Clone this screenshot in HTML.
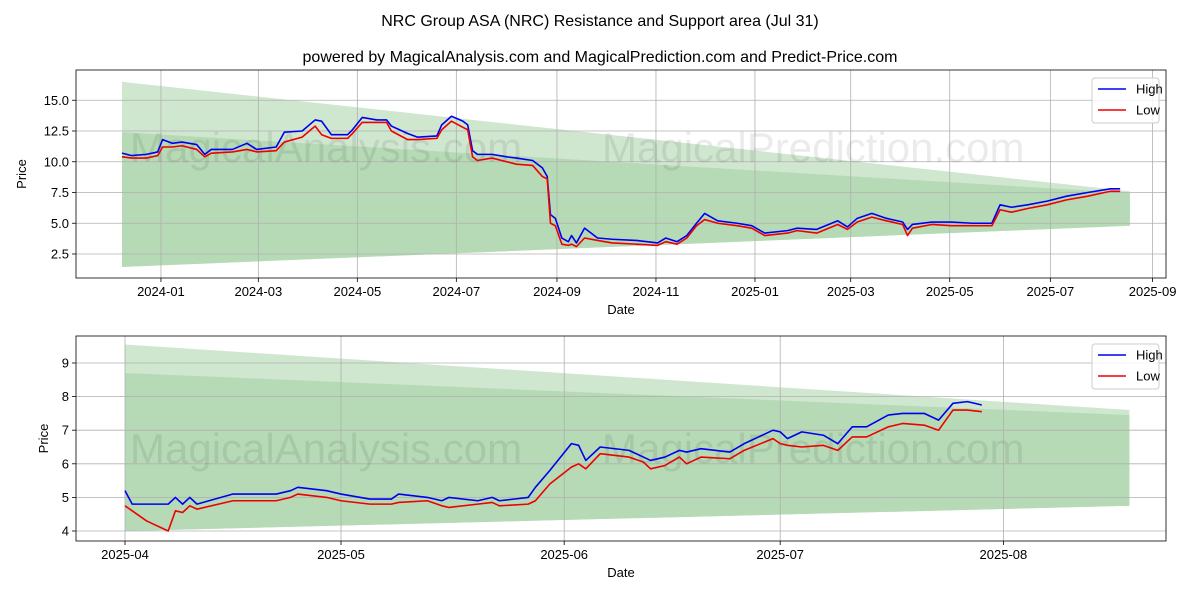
<!DOCTYPE html>
<html><head><meta charset="utf-8"><style>
body{margin:0;background:#fff;}
svg{display:block;font-family:"Liberation Sans","DejaVu Sans",sans-serif;}
</style></head><body>
<svg id="c" width="1200" height="600">
<text x="600" y="26" text-anchor="middle" font-size="16">NRC Group ASA (NRC) Resistance and Support area (Jul 31)</text>
<text x="600" y="62" text-anchor="middle" font-size="16">powered by MagicalAnalysis.com and MagicalPrediction.com and Predict-Price.com</text>
</svg>
<script>
// Top chart data: days since 2023-12-08
const topDays=[0,6,15,22,25,31,37,46,51,55,68,77,83,95,100,111,119,123,129,139,142,148,157,163,166,176,182,194,197,203,210,213,216,219,228,237,243,253,259,262,264,267,271,275,277,280,285,293,302,317,330,335,342,348,354,359,367,379,388,396,410,416,428,441,447,453,462,471,481,484,487,499,511,524,536,541,548,558,570,582,595,609,615];
const topHigh=[10.7,10.5,10.6,10.8,11.8,11.5,11.6,11.4,10.6,11.0,11.0,11.5,11.0,11.2,12.4,12.5,13.4,13.3,12.2,12.2,12.6,13.6,13.4,13.4,12.9,12.3,12.0,12.1,13.0,13.7,13.3,13.0,10.9,10.6,10.6,10.4,10.3,10.1,9.5,8.8,5.7,5.4,3.8,3.5,4.0,3.4,4.6,3.8,3.7,3.6,3.4,3.8,3.5,4.0,5.0,5.8,5.2,5.0,4.8,4.2,4.4,4.6,4.5,5.2,4.7,5.4,5.8,5.4,5.1,4.5,4.9,5.1,5.1,5.0,5.0,6.5,6.3,6.5,6.8,7.2,7.5,7.8,7.8];
const topLow=[10.4,10.3,10.3,10.5,11.2,11.2,11.3,11.0,10.4,10.7,10.8,11.0,10.8,10.9,11.6,12.0,12.9,12.2,11.9,11.9,12.3,13.2,13.2,13.2,12.5,11.8,11.8,11.9,12.6,13.3,12.8,12.6,10.4,10.1,10.3,10.0,9.8,9.7,8.8,8.6,5.0,4.8,3.3,3.2,3.3,3.1,3.8,3.6,3.4,3.3,3.2,3.5,3.3,3.8,4.8,5.3,5.0,4.8,4.6,4.0,4.2,4.4,4.2,4.9,4.5,5.1,5.5,5.2,4.9,4.0,4.6,4.9,4.8,4.8,4.8,6.1,5.9,6.2,6.5,6.9,7.2,7.6,7.6];
const topTicks=["2024-01","2024-03","2024-05","2024-07","2024-09","2024-11","2025-01","2025-03","2025-05","2025-07","2025-09"];
const topTickDays=[24,84,145,206,268,329,390,449,510,572,635];
const topYTicks=[2.5,5.0,7.5,10.0,12.5,15.0];
const topBand={outerTop:[16.5,7.6],innerTop:[12.4,7.45],bottom:[1.45,4.8],end:621};
// Bottom chart data: days since 2025-04-01
const botDays=[0,1,3,6,7,8,9,10,15,21,23,24,28,30,34,37,38,42,44,45,49,51,52,56,57,59,62,63,64,66,70,72,73,75,77,78,80,84,86,90,91,92,94,97,99,101,103,106,108,111,113,115,117,119];
const botHigh=[5.2,4.8,4.8,4.8,5.0,4.8,5.0,4.8,5.1,5.1,5.2,5.3,5.2,5.1,4.95,4.95,5.1,5.0,4.9,5.0,4.9,5.0,4.9,5.0,5.3,5.8,6.6,6.55,6.1,6.5,6.4,6.2,6.1,6.2,6.4,6.35,6.45,6.35,6.6,7.0,6.95,6.75,6.95,6.85,6.6,7.1,7.1,7.45,7.5,7.5,7.3,7.8,7.85,7.75];
const botLow=[4.75,4.6,4.3,4.0,4.6,4.55,4.75,4.65,4.9,4.9,5.0,5.1,5.0,4.9,4.8,4.8,4.85,4.9,4.75,4.7,4.8,4.85,4.75,4.8,4.9,5.4,5.9,6.0,5.85,6.3,6.2,6.05,5.85,5.95,6.2,6.0,6.2,6.15,6.4,6.75,6.6,6.55,6.5,6.55,6.4,6.8,6.8,7.1,7.2,7.15,7.0,7.6,7.6,7.55];
const botTicks=["2025-04","2025-05","2025-06","2025-07","2025-08"];
const botTickDays=[0,30,61,91,122];
const botYTicks=[4,5,6,7,8,9];
const botBand={outerTop:[9.55,7.6],innerTop:[8.7,7.45],bottom:[4.0,4.75],end:139.5};

const NS="http://www.w3.org/2000/svg";
const svg=document.getElementById('c');
function el(tag,attrs,parent){const e=document.createElementNS(NS,tag);for(const k in attrs)e.setAttribute(k,attrs[k]);(parent||svg).appendChild(e);return e;}

function drawPanel(cfg){
  const g=el('g',{});
  
  
  const {x0,x1,y0,y1,d2x,v2y}=cfg;
  const X=d=>cfg.xStart+d*d2x, Y=v=>cfg.yPix0+(cfg.vRef-v)*v2y;
  const b=cfg.band, e=b.end;
  const o=el('polygon',{points:`${X(0)},${Y(b.outerTop[0])} ${X(e)},${Y(b.outerTop[1])} ${X(e)},${Y(b.bottom[1])} ${X(0)},${Y(b.bottom[0])}`,fill:'#cfe6cf'},g);
  
  
  const inn=el('polygon',{points:`${X(0)},${Y(b.innerTop[0])} ${X(e)},${Y(b.innerTop[1])} ${X(e)},${Y(b.bottom[1])} ${X(0)},${Y(b.bottom[0])}`,fill:'#b5dab5'},g);
  
  
  cfg.tickDays.forEach((d,i)=>{
    el('line',{x1:X(d),x2:X(d),y1:y0,y2:y1,stroke:'#b0b0b0','stroke-width':0.8},g);
    el('line',{x1:X(d),x2:X(d),y1:y1,y2:y1+4,stroke:'#000','stroke-width':0.8},g);
    const t=el('text',{x:X(d),y:y1+18,'text-anchor':'middle','font-size':13},g);t.textContent=cfg.ticks[i];
    
    
  });
  cfg.yTicks.forEach(v=>{
    el('line',{x1:x0,x2:x1,y1:Y(v),y2:Y(v),stroke:'#b0b0b0','stroke-width':0.8},g);
    el('line',{x1:x0-4,x2:x0,y1:Y(v),y2:Y(v),stroke:'#000','stroke-width':0.8},g);
    const t=el('text',{x:x0-7,y:Y(v)+4.5,'text-anchor':'end','font-size':13},g);t.textContent=cfg.yFmt(v);
    
    
  });
  [[cfg.wmA,'MagicalAnalysis.com'],[cfg.wmB,'MagicalPrediction.com']].forEach(([p,s])=>{
    const t=el('text',{x:p[0],y:p[1],'font-size':42,fill:'#000','fill-opacity':0.08},g);t.textContent=s;
    
    
  });
  const line=(days,vals,col,nm)=>{
    const p=el('polyline',{points:days.map((d,i)=>X(d)+','+Y(vals[i])).join(' '),fill:'none',stroke:col,'stroke-width':1.6,'stroke-linejoin':'round'},g);
    
    
  };
  line(cfg.days,cfg.high,'#0000ee','high-line');
  line(cfg.days,cfg.low,'#ee0000','low-line');
  el('rect',{x:x0,y:y0,width:x1-x0,height:y1-y0,fill:'none',stroke:'#000','stroke-width':0.8},g);
  const lg=el('g',{},g);
  
  
  const lx=x1-74, ly=y0+8;
  el('rect',{x:lx,y:ly,width:67,height:45,rx:3,fill:'#fff','fill-opacity':0.85,stroke:'#ccc'},lg);
  [['High','#0000ee',ly+11],['Low','#ee0000',ly+32]].forEach(([s,c,yy])=>{
    el('line',{x1:lx+6,x2:lx+34,y1:yy,y2:yy,stroke:c,'stroke-width':1.6},lg);
    const t=el('text',{x:lx+44,y:yy+4.5,'font-size':13},lg);t.textContent=s;
    
    
  });
  const xl=el('text',{x:(x0+x1)/2,y:y1+36,'text-anchor':'middle','font-size':13},g);xl.textContent='Date';
  
  
  const yl=el('text',{x:0,y:0,'text-anchor':'middle','font-size':13,transform:`translate(${cfg.ylx},${(y0+y1)/2}) rotate(-90)`},g);yl.textContent='Price';
  
  
}
drawPanel({name:'top-panel',x0:76,x1:1166,y0:70,y1:278,xStart:122,d2x:1.623,vRef:2.5,yPix0:254,v2y:12.3,
  band:topBand,days:topDays,high:topHigh,low:topLow,ticks:topTicks,tickDays:topTickDays,yTicks:topYTicks,
  yFmt:v=>v.toFixed(1),ylx:26,wmA:[130,162],wmB:[602,162]});
drawPanel({name:'bottom-panel',x0:76,x1:1166,y0:336,y1:541,xStart:125,d2x:7.2,vRef:4,yPix0:531,v2y:33.6,
  band:botBand,days:botDays,high:botHigh,low:botLow,ticks:botTicks,tickDays:botTickDays,yTicks:botYTicks,
  yFmt:v=>String(v),ylx:48,wmA:[130,463],wmB:[602,463]});
</script>
</body></html>
